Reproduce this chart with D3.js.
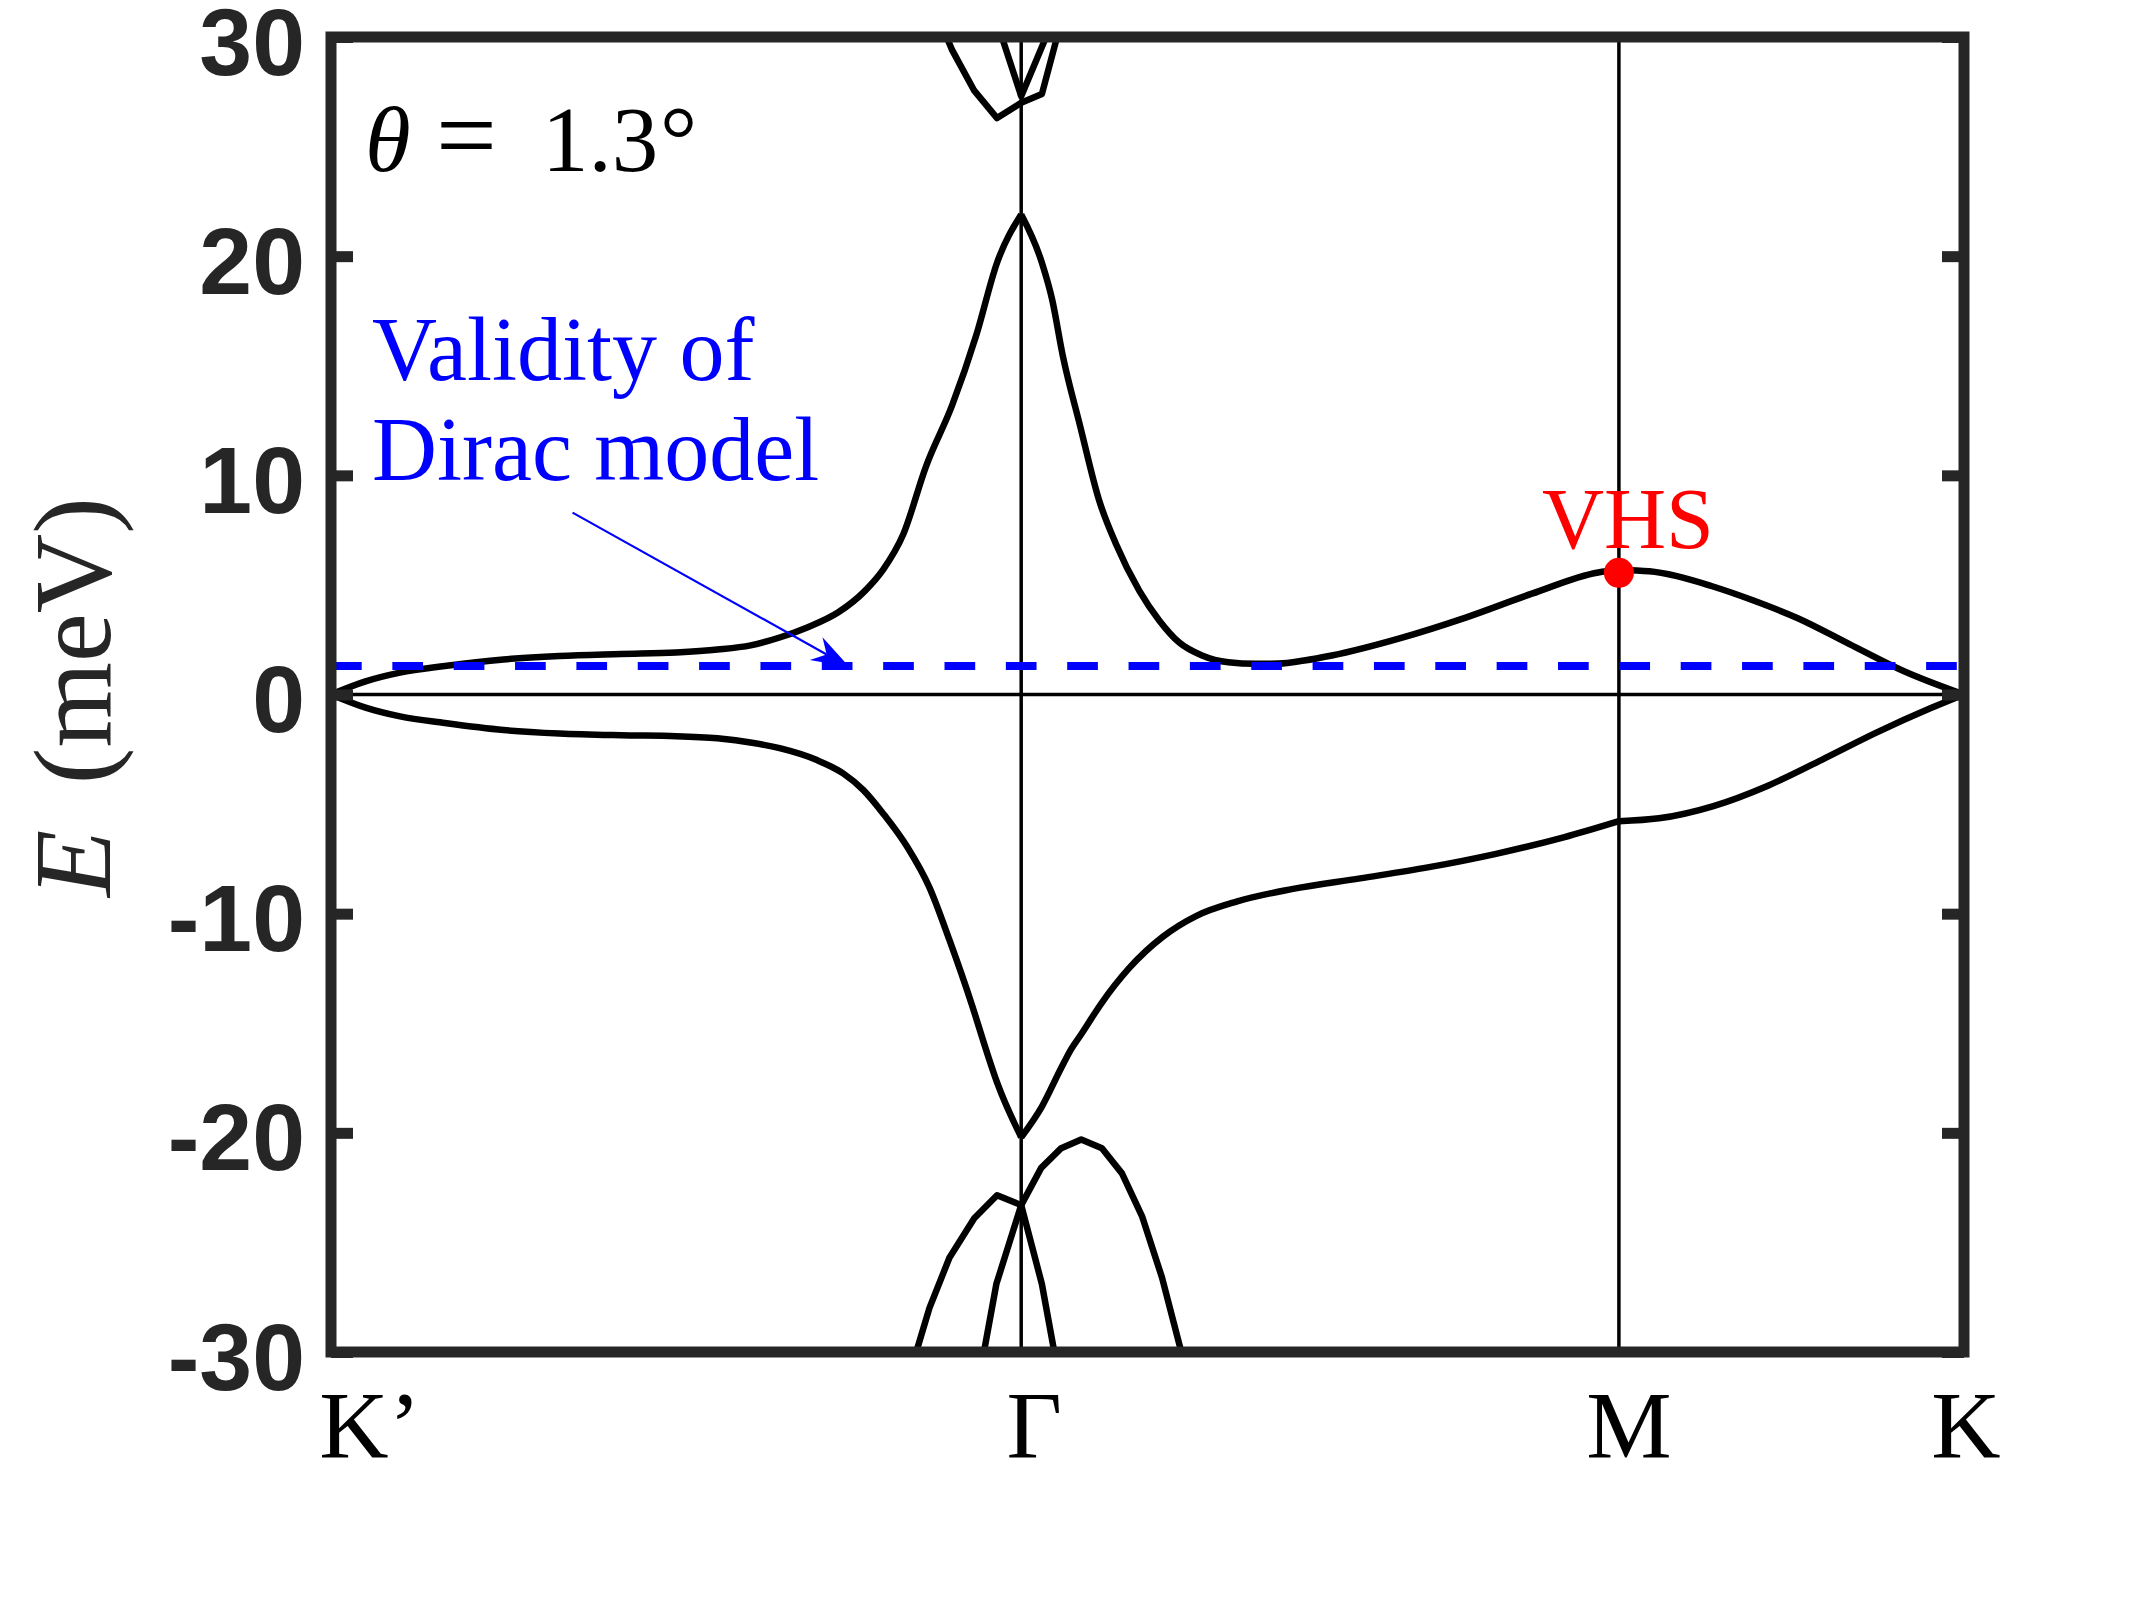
<!DOCTYPE html>
<html><head><meta charset="utf-8">
<script src="https://cdn.jsdelivr.net/npm/d3@7"></script>
<style>html,body{margin:0;padding:0;background:#fff;} svg{display:block}</style>
</head><body>
<svg id="chart" width="2134" height="1600"></svg>
<script>
// ---------------- data ----------------
const kTicks = [0, 1, 1.866, 2.366];
const kLabels = ["K’", "Γ", "M", "K"];
const eTicks = [-30, -20, -10, 0, 10, 20, 30];
const eTickLabels = ["-30", "-20", "-10", "0", "10", "20", "30"];

// upper flat band (conduction), [k, E(meV)]
const bandC1 = [[0,0],[0.05,0.6],[0.1,1.0],[0.165,1.3],[0.25,1.6],[0.331,1.76],[0.42,1.85],[0.5,1.92],
  [0.56,2.05],[0.608,2.24],[0.65,2.6],[0.69,3.06],[0.735,3.75],[0.774,4.74],[0.80,5.7],[0.829,7.3],
  [0.862,10.4],[0.9,13.2],[0.935,16.4],[0.965,19.7],[1.0,21.9],[1.03,19.7],[1.045,18.0],[1.06,15.5],
  [1.085,12.3],[1.113,8.85],[1.137,6.89],[1.171,4.74],[1.2,3.38],[1.229,2.37],[1.262,1.78],[1.3,1.47],
  [1.34,1.4],[1.373,1.41],[1.41,1.55],[1.45,1.78],[1.547,2.55],[1.644,3.51],[1.74,4.6],[1.836,5.57],
  [1.866,5.68],[1.91,5.62],[1.95,5.4],[2.0,4.95],[2.06,4.3],[2.126,3.47],[2.2,2.3],[2.28,1.05],[2.366,0]];
// lower flat band (valence)
const bandV1 = [[0,0],[0.05,-0.6],[0.1,-1.0],[0.165,-1.3],[0.25,-1.62],[0.331,-1.78],[0.42,-1.86],[0.5,-1.9],
  [0.56,-2.0],[0.61,-2.2],[0.65,-2.45],[0.703,-2.98],[0.742,-3.6],[0.771,-4.35],[0.801,-5.47],[0.835,-6.96],
  [0.867,-8.8],[0.896,-11.2],[0.929,-14.2],[0.949,-16.2],[0.965,-17.7],[1.0,-20.2],[1.03,-18.8],[1.057,-17.1],
  [1.072,-16.2],[1.087,-15.5],[1.116,-14.1],[1.156,-12.5],[1.205,-11.06],[1.254,-10.1],[1.313,-9.44],
  [1.392,-8.88],[1.491,-8.39],[1.589,-7.89],[1.688,-7.27],[1.786,-6.52],[1.866,-5.78],[1.924,-5.65],
  [2.003,-5.09],[2.082,-4.16],[2.16,-2.98],[2.239,-1.74],[2.318,-0.62],[2.366,0]];
// remote bands near Gamma
const bandC2 = [[0.892,30],[0.900,29.4],[0.932,27.55],[0.965,26.3],[1.0,27.0],[1.030,27.4],[1.052,30]];
const bandC3 = [[0.972,30],[1.0,27.3],[1.036,30]];
const bandV2 = [[0.848,-30],[0.867,-28.0],[0.896,-25.7],[0.932,-23.9],[0.965,-22.85],[1.0,-23.3],[1.029,-21.6],
  [1.058,-20.7],[1.087,-20.3],[1.117,-20.7],[1.146,-21.85],[1.175,-23.8],[1.204,-26.6],[1.232,-30]];
const bandV3 = [[0.946,-30],[0.964,-26.9],[1.0,-23.3],[1.030,-26.9],[1.048,-30]];

const diracLimit = 1.3;          // meV, validity of Dirac model
const vhsPoint = [1.866, 5.55];  // van Hove singularity
const arrowFrom = [0.350, 8.3];
const arrowTo = [0.751, 1.25];

// ---------------- layout ----------------
const L = 331, R = 1964, T = 37, B = 1352;
const x = d3.scaleLinear().domain([0, kTicks[kTicks.length - 1]]).range([L, R]);
const y = d3.scaleLinear().domain([-30, 30]).range([B, T]);
const svg = d3.select("#chart");
const axisColor = "#262626";
const serif = "'Liberation Serif', 'Times New Roman', serif";

svg.append("defs").append("clipPath").attr("id", "plotclip")
  .append("rect").attr("x", L).attr("y", T).attr("width", R - L).attr("height", B - T);

const plot = svg.append("g").attr("clip-path", "url(#plotclip)");

// symmetry-point vertical lines and zero line
plot.selectAll("line.kline").data(kTicks.slice(1, -1)).enter().append("line")
  .attr("x1", d => x(d)).attr("x2", d => x(d)).attr("y1", T).attr("y2", B)
  .attr("stroke", "#000").attr("stroke-width", 3.5);
plot.append("line").attr("x1", L).attr("x2", R).attr("y1", y(0)).attr("y2", y(0))
  .attr("stroke", "#000").attr("stroke-width", 3.5);

// flat bands: smooth within each path segment (K'-Γ, Γ-M, M-K), kinks at symmetry points
const smooth = d3.line().x(d => x(d[0])).y(d => y(d[1])).curve(d3.curveMonotoneX);
const straight = d3.line().x(d => x(d[0])).y(d => y(d[1]));
function segmentPath(b) {
  const cuts = kTicks.slice(1, -1);
  const segs = [];
  let cur = [];
  b.forEach(p => {
    cur.push(p);
    if (cuts.some(c => Math.abs(c - p[0]) < 1e-9)) { segs.push(cur); cur = [p]; }
  });
  if (cur.length > 1) segs.push(cur);
  return segs.map(s => smooth(s)).join("");
}
[bandC1, bandV1].forEach(b => {
  plot.append("path").attr("d", segmentPath(b)).attr("fill", "none").attr("stroke", "#000")
    .attr("stroke-width", 6.5).attr("stroke-linejoin", "round");
});
[bandC2, bandC3, bandV2, bandV3].forEach(b => {
  plot.append("path").attr("d", straight(b)).attr("fill", "none").attr("stroke", "#000")
    .attr("stroke-width", 6.5).attr("stroke-linejoin", "round");
});

// dashed Dirac validity line
plot.append("line").attr("x1", L).attr("x2", R).attr("y1", y(diracLimit)).attr("y2", y(diracLimit))
  .attr("stroke", "#0000ff").attr("stroke-width", 8).attr("stroke-dasharray", "30.7,30.65");

// arrow
const ax0 = x(arrowFrom[0]), ay0 = y(arrowFrom[1]), ax1 = x(arrowTo[0]), ay1 = y(arrowTo[1]);
const ang = Math.atan2(ay1 - ay0, ax1 - ax0);
const hl = 38, hw = 13, notch = 12;
const ux = Math.cos(ang), uy = Math.sin(ang), px = -uy, py = ux;
svg.append("line").attr("x1", ax0).attr("y1", ay0)
  .attr("x2", ax1 - ux * (hl - notch)).attr("y2", ay1 - uy * (hl - notch))
  .attr("stroke", "#0000ff").attr("stroke-width", 2.2);
svg.append("polygon").attr("points", [
  [ax1, ay1],
  [ax1 - ux * hl + px * hw, ay1 - uy * hl + py * hw],
  [ax1 - ux * (hl - notch), ay1 - uy * (hl - notch)],
  [ax1 - ux * hl - px * hw, ay1 - uy * hl - py * hw]
].map(p => p.join(",")).join(" ")).attr("fill", "#0000ff");

// VHS dot
svg.append("circle").attr("cx", x(vhsPoint[0])).attr("cy", y(vhsPoint[1])).attr("r", 15).attr("fill", "#ff0000");

// axes box
svg.append("rect").attr("x", L).attr("y", T).attr("width", R - L).attr("height", B - T)
  .attr("fill", "none").attr("stroke", axisColor).attr("stroke-width", 11).attr("stroke-linejoin", "miter");

// y axes (left with labels, right ticks only)
const yAxisL = d3.axisLeft(y).tickValues(eTicks).tickSize(-22).tickPadding(26)
  .tickFormat((d, i) => eTickLabels[i]);
const gL = svg.append("g").attr("transform", `translate(${L},0)`).call(yAxisL);
gL.select(".domain").remove();
gL.selectAll(".tick line").attr("stroke", axisColor).attr("stroke-width", 11);
gL.selectAll(".tick text").attr("fill", axisColor).attr("font-family", "'Liberation Sans', Arial, sans-serif")
  .attr("font-weight", "bold").attr("font-size", 95).attr("dy", "0.39em");

const yAxisR = d3.axisRight(y).tickValues(eTicks).tickSize(-22).tickFormat("");
const gR = svg.append("g").attr("transform", `translate(${R},0)`).call(yAxisR);
gR.select(".domain").remove();
gR.selectAll(".tick line").attr("stroke", axisColor).attr("stroke-width", 11);

// x labels
const nudge = {"K’": 39, "Γ": 13, "M": 10, "K": 2};
svg.selectAll("text.klabel").data(kTicks).enter().append("text")
  .attr("class", "klabel")
  .attr("x", (d, i) => x(d) + nudge[kLabels[i]]).attr("y", 1458)
  .attr("text-anchor", "middle").attr("font-family", serif)
  .attr("font-size", 96).attr("fill", "#000").text((d, i) => kLabels[i]);

// y label
const yl = svg.append("text").attr("transform", `translate(110,697) rotate(-90)`)
  .attr("text-anchor", "middle").attr("font-family", serif)
  .attr("font-size", 110).attr("fill", axisColor);
yl.append("tspan").attr("font-style", "italic").text("E");
yl.append("tspan").attr("dx", 18).text(" (meV)");

// theta annotation
const th = svg.append("text").attr("y", 171).attr("font-family", serif)
  .attr("font-size", 93).attr("fill", "#000");
th.append("tspan").attr("x", 365).attr("font-style", "italic").text("θ");
th.append("tspan").attr("x", 436).attr("font-size", 108).text("=");
th.append("tspan").attr("x", 542).attr("font-size", 93).text("1.3");
th.append("tspan").attr("x", 660).attr("font-size", 93).text("°");

// blue annotation
const blue = svg.append("g").attr("font-family", serif)
  .attr("font-size", 90).attr("fill", "#0000ff");
blue.append("text").attr("x", 372).attr("y", 380).text("Validity of");
blue.append("text").attr("x", 372).attr("y", 480).text("Dirac model");

// VHS label
svg.append("text").attr("x", x(vhsPoint[0]) + 9).attr("y", 548).attr("text-anchor", "middle")
  .attr("font-family", serif).attr("font-size", 86)
  .attr("fill", "#ff0000").text("VHS");
</script>
</body></html>
